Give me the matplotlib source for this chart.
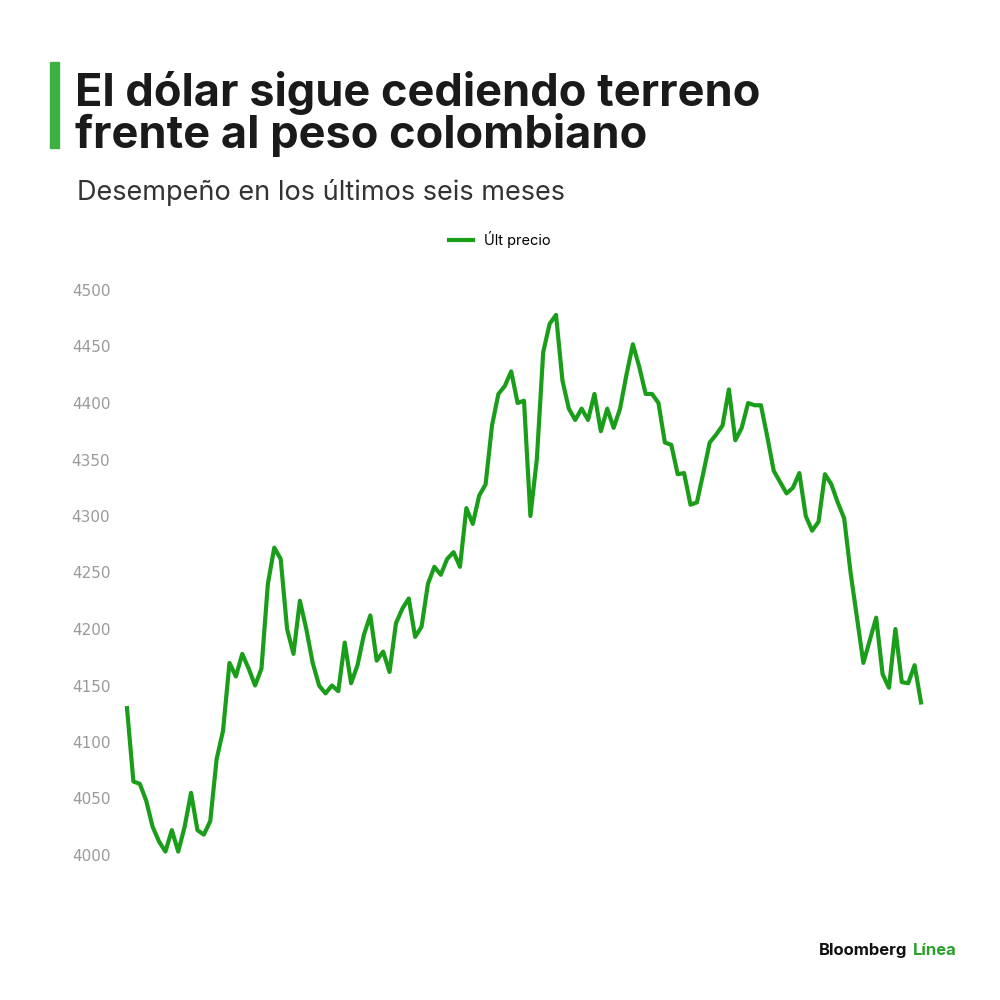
import matplotlib.pyplot as plt
from matplotlib.patches import Rectangle

# Dólar vs peso colombiano, últimos seis meses
precio = [
    4130, 4065, 4063, 4048, 4025, 4012, 4003, 4022, 4003, 4025, 4055, 4022, 4018, 4030,
    4085, 4110, 4170, 4158, 4178, 4165, 4150, 4165, 4240, 4272, 4262, 4200, 4178, 4225,
    4200, 4170, 4150, 4143, 4150, 4145, 4188, 4152, 4168, 4195, 4212, 4172, 4180, 4162,
    4205, 4218, 4227, 4193, 4202, 4240, 4255, 4248, 4262, 4268, 4255, 4307, 4293, 4318,
    4328, 4380, 4408, 4415, 4428, 4400, 4402, 4300, 4350, 4445, 4470, 4478, 4420, 4395,
    4385, 4395, 4385, 4408, 4375, 4395, 4378, 4395, 4425, 4452, 4432, 4408, 4408, 4400,
    4365, 4363, 4337, 4338, 4310, 4312, 4338, 4365, 4372, 4380, 4412, 4367, 4378, 4400,
    4398, 4398, 4370, 4340, 4330, 4320, 4325, 4338, 4300, 4287, 4295, 4337, 4328, 4312,
    4298, 4250, 4210, 4170, 4190, 4210, 4160, 4148, 4200, 4153, 4152, 4168, 4135,
]
yticks = [4000, 4050, 4100, 4150, 4200, 4250, 4300, 4350, 4400, 4450, 4500]

fig = plt.figure(figsize=(10, 10), dpi=100)
ax = fig.add_axes([0.127, 0.1337, 0.794, 0.5876])
line, = ax.plot(range(len(precio)), precio, color='#1a9e1a', lw=3, label='Últ precio',
                clip_on=False)
ax.set_xlim(0, len(precio) - 1)
ax.set_ylim(3990, 4510)
ax.set_yticks(yticks)
ax.set_xticks([])
ax.tick_params(axis='y', length=0, labelsize=11, labelcolor='#9a9a9a', pad=12)
for s in ax.spines.values():
    s.set_visible(False)

fig.patches.append(Rectangle((0.050, 0.852), 0.009, 0.086, transform=fig.transFigure,
                             color='#3cb043'))
fig.text(0.075, 0.852, 'El dólar sigue cediendo terreno\nfrente al peso colombiano',
         fontsize=32.5, fontweight='bold', color='#1a1a1a', linespacing=0.95,
         family='Inter')
fig.text(0.077, 0.808, 'Desempeño en los últimos seis meses', fontsize=19.5,
         color='#333333', va='center', family='Inter')
fig.legend(handles=[line], loc='center', bbox_to_anchor=(0.5, 0.76), frameon=False,
           handlelength=1.6, prop={'family': 'Inter', 'size': 10.5})
fig.text(0.907, 0.045, 'Bloomberg', fontsize=12, fontweight='bold', color='#111111',
         ha='right', family='Inter')
fig.text(0.913, 0.045, 'Línea', fontsize=12, fontweight='bold', color='#2aa02a',
         family='Inter')

fig.savefig('out.png', dpi=100, facecolor='white')
